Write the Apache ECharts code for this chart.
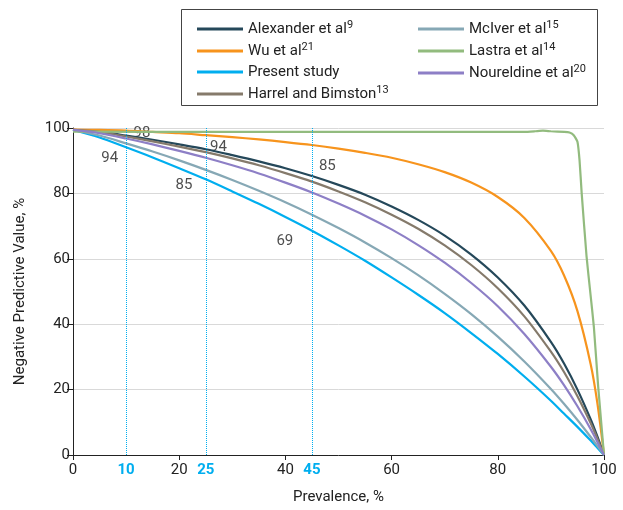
<!DOCTYPE html>
<html>
<head>
<meta charset="utf-8">
<script src="https://cdn.jsdelivr.net/npm/echarts@6/dist/echarts.min.js"></script>
<style>
    html, body {margin: 0; padding: 0; background: #fff;}
    #npvChart {width: 623px; height: 510px;}
</style>
</head>
<body>
<div id="npvChart"></div>
<script>
// prevalence (%) used by the six NPV curves
var prevalence = [0, 5, 10, 15, 20, 25, 30, 35, 40, 45, 50, 55, 60, 65, 70, 75, 80, 85, 90, 92.5, 95, 97.5, 98.75, 100];

// negative predictive value (%)
var alexander = [99.4, 98.9, 97.7, 96.4, 95.0, 93.5, 91.7, 89.8, 87.7, 85.3, 82.6, 79.6, 76.0, 71.9, 67.1, 61.3, 54.3, 45.7, 34.6, 27.9, 20.0, 10.9, 5.7, 0];
var wu = [99.5, 99.4, 99.2, 98.8, 98.4, 97.8, 97.2, 96.5, 95.7, 94.8, 93.7, 92.4, 90.9, 88.9, 86.5, 83.3, 78.9, 72.5, 62.4, 54.8, 44.0, 27.7, 15.9, 0];
var presentStudy = [99.4, 97.1, 94.1, 91.0, 87.7, 84.3, 80.6, 76.8, 72.8, 68.6, 64.1, 59.4, 54.3, 49.0, 43.4, 37.3, 30.9, 24.0, 16.6, 12.6, 8.6, 4.4, 2.2, 0];
var harrel = [99.4, 98.8, 97.4, 95.9, 94.3, 92.6, 90.7, 88.6, 86.2, 83.6, 80.6, 77.3, 73.5, 69.2, 64.1, 58.1, 51.0, 42.4, 31.6, 25.3, 18.0, 9.7, 5.0, 0];
var mciver = [99.4, 97.7, 95.3, 92.8, 90.1, 87.2, 84.1, 80.8, 77.3, 73.5, 69.4, 65.0, 60.2, 55.0, 49.3, 43.1, 36.2, 28.6, 20.2, 15.6, 10.7, 5.5, 2.8, 0];
var noureldine = [99.4, 98.4, 96.8, 95.0, 93.0, 90.9, 88.6, 86.1, 83.3, 80.3, 76.9, 73.2, 69.0, 64.2, 58.8, 52.6, 45.5, 37.0, 27.0, 21.3, 14.9, 7.9, 4.0, 0];

// Lastra curve has its own sampling (flat, then a cliff near 100)
var lastraPrev = [0, 30, 60, 80, 85, 87, 88.5, 90, 92.5, 93.5, 94.3, 95.0, 95.4, 95.8, 96.7, 97.4, 98.1, 98.9, 100];
var lastraNpv = [98.9, 98.8, 98.8, 98.8, 98.8, 99.0, 99.2, 99.0, 98.8, 98.6, 97.8, 95.8, 90, 80, 61, 50, 39, 21, 0];

// highlighted prevalences and axis ticks
var markedPrevalence = [10, 25, 45];
var xTicks = [0, 20, 40, 60, 80, 100];

// value annotations on the plot
var annoX = [13.0, 6.9, 27.4, 20.9, 47.9, 39.9];
var annoY = [98.4, 90.8, 94.2, 82.6, 88.3, 65.3];
var annoText = ['98', '94', '94', '85', '85', '69'];

var FONT = 'Roboto, "Liberation Sans", sans-serif';
var MARK_BLUE = '#00aeef';

var curves = [
    {name: 'Alexander et al', sup: '9', color: '#25485a', x: prevalence, y: alexander, smooth: 0.3},
    {name: 'Wu et al', sup: '21', color: '#f7941d', x: prevalence, y: wu, smooth: 0.3},
    {name: 'Present study', sup: '', color: '#00aeef', x: prevalence, y: presentStudy, smooth: 0.3},
    {name: 'Harrel and Bimston', sup: '13', color: '#857a6b', x: prevalence, y: harrel, smooth: 0.3},
    {name: 'McIver et al', sup: '15', color: '#86a8b5', x: prevalence, y: mciver, smooth: 0.3},
    {name: 'Lastra et al', sup: '14', color: '#92bb7e', x: lastraPrev, y: lastraNpv, smooth: 0.15},
    {name: 'Noureldine et al', sup: '20', color: '#8d7fc6', x: prevalence, y: noureldine, smooth: 0.3}
];

var supMap = curves.reduce(function (m, c) {
    m[c.name] = c.sup;
    return m;
}, {});

function legendFor(names, left) {
    return {
        orient: 'vertical',
        left: left,
        top: 20,
        padding: 0,
        itemWidth: 46,
        itemHeight: 3,
        itemGap: 5,
        icon: 'rect',
        selectedMode: false,
        data: names,
        formatter: function (name) {
            return supMap[name] ? name + '{s|' + supMap[name] + '}' : name;
        },
        textStyle: {
            fontFamily: FONT, fontSize: 15, color: '#222', lineHeight: 16,
            rich: {s: {fontFamily: FONT, fontSize: 11, color: '#222', padding: [0, 0, 7, 0]}}
        }
    };
}

var series = curves.map(function (c) {
    return {
        name: c.name,
        type: 'line',
        showSymbol: false,
        smooth: c.smooth,
        z: 3,
        color: c.color,
        lineStyle: {width: 2.2, color: c.color},
        data: c.x.map(function (p, i) {
            return [p, c.y[i]];
        })
    };
});

// dotted verticals at the highlighted prevalences
series.push({
    name: 'marks',
    type: 'line',
    data: [],
    z: 2,
    markLine: {
        silent: true,
        symbol: 'none',
        label: {show: false},
        itemStyle: {color: MARK_BLUE},
        lineStyle: {type: 'dotted', color: MARK_BLUE, width: 1, opacity: 1},
        data: markedPrevalence.map(function (v) {
            return {xAxis: v, lineStyle: {type: 'dotted', color: MARK_BLUE, width: 1}};
        })
    }
});

series.push({
    name: 'labels',
    type: 'scatter',
    z: 1,
    symbolSize: 1,
    itemStyle: {color: 'rgba(0,0,0,0)'},
    label: {
        show: true,
        position: 'inside',
        fontFamily: FONT,
        fontSize: 15,
        color: '#222',
        formatter: function (p) {
            return p.value[2];
        }
    },
    data: annoX.map(function (x, i) {
        return [x, annoY[i], annoText[i]];
    })
});

var myChart = echarts.init(document.getElementById('npvChart'));

var option = {
    animation: false,
    backgroundColor: '#fff',
    grid: {left: 73, right: 19, top: 128, bottom: 54},
    legend: [
        legendFor(['Alexander et al', 'Wu et al', 'Present study', 'Harrel and Bimston'], 197),
        legendFor(['McIver et al', 'Lastra et al', 'Noureldine et al'], 418)
    ],
    graphic: [{
        type: 'rect',
        shape: {x: 181.5, y: 9.5, width: 416, height: 96},
        style: {fill: 'none', stroke: '#444', lineWidth: 1}
    }],
    xAxis: {
        type: 'value',
        min: 0,
        max: 100,
        name: 'Prevalence, %',
        nameLocation: 'middle',
        nameGap: 35,
        nameTextStyle: {fontFamily: FONT, fontSize: 15, color: '#222'},
        axisLine: {lineStyle: {color: '#222', width: 1}},
        axisTick: {show: true, length: 5, customValues: xTicks, lineStyle: {color: '#222'}},
        axisLabel: {
            margin: 8,
            fontFamily: FONT,
            fontSize: 15,
            color: '#222',
            customValues: xTicks.concat(markedPrevalence).sort(function (a, b) {
                return a - b;
            }),
            formatter: function (v) {
                return markedPrevalence.indexOf(v) >= 0 ? '{b|' + v + '}' : '' + v;
            },
            rich: {b: {fontFamily: FONT, fontSize: 15, color: MARK_BLUE, fontWeight: 'bold'}}
        },
        splitLine: {show: false}
    },
    yAxis: {
        type: 'value',
        min: 0,
        max: 100,
        interval: 20,
        name: 'Negative Predictive Value, %',
        nameLocation: 'middle',
        nameGap: 45,
        nameTextStyle: {fontFamily: FONT, fontSize: 15, color: '#222'},
        axisLine: {show: true, lineStyle: {color: '#222', width: 1}},
        axisTick: {show: true, length: 6, lineStyle: {color: '#222'}},
        axisLabel: {margin: 3, fontFamily: FONT, fontSize: 15, color: '#222'},
        splitLine: {lineStyle: {color: '#d9d9d9', width: 1}}
    },
    series: series
};

if (option && typeof option === "object") {
    myChart.setOption(option, true);
}
</script>
</body>
</html>
